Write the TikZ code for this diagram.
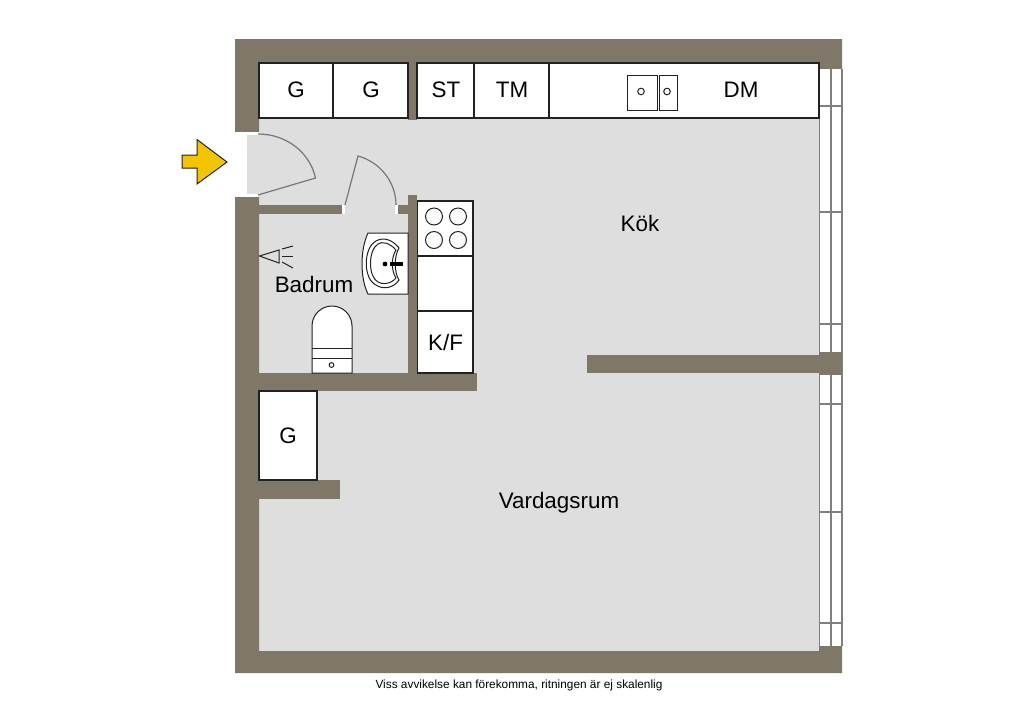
\documentclass[tikz,border=0pt]{standalone}
\usepackage{fontspec}
\setmainfont{Liberation Sans}
\usepackage{xcolor}
\definecolor{wall}{HTML}{7F7767}
\definecolor{floorc}{HTML}{DEDEDE}
\definecolor{ink}{HTML}{222222}
\definecolor{frame}{HTML}{808080}
\definecolor{doorc}{HTML}{777777}
\definecolor{arrowc}{HTML}{F2C500}
\tikzset{
  wallp/.style={fill=wall, draw=none},
  unit/.style={draw=ink, fill=white, line width=1.1pt},
  thin/.style={draw=ink, line width=1pt},
  win/.style={draw=frame, line width=1.4pt},
  door/.style={draw=doorc, line width=1.2pt},
  sill/.style={fill=white, draw=none},
  lab/.style={text=black, font=\fontsize{22.4}{24}\selectfont, inner sep=0pt},
}

\begin{document}
\begin{tikzpicture}[x=1pt,y=-1pt]
  \useasboundingbox (0,0) rectangle (1024,724);
  \fill[white] (0,0) rectangle (1024,724);
  % floor
  \fill[floorc] (259,63) rectangle (819,651);
  \fill[floorc] (247,134) rectangle (259,194);
  % outer walls
  \fill[wallp] (235,39) -- (842,39) -- (842,69) -- (819,69) -- (819,63) -- (259,63) -- (259,132) -- (235,132) -- cycle;
  \fill[wallp] (235,195) -- (259,195) -- (259,651) -- (819,651) -- (819,646) -- (842,646) -- (842,673) -- (235,673) -- cycle;
  % inner walls
  \fill[wallp] (408,63) rectangle (417,120);
  \fill[wallp] (259,205) rectangle (342,214);
  \fill[wallp] (398,205) rectangle (408,214);
  \fill[wallp] (408,195) rectangle (417,373);
  \fill[wallp] (259,373) rectangle (477,391);
  \fill[wallp] (259,480) rectangle (340,499);
  \fill[wallp] (587,355) rectangle (819,373);
  % window
  \fill[white] (819,69) rectangle (842,646);
  \draw[win] (819.5,69) -- (819.5,646);
  \draw[win] (831,69) -- (831,646);
  \draw[win] (842,69) -- (842,646);
  \foreach \yy in {106,212,324,404,512,623}
    \draw[win] (819,\yy) -- (842,\yy);
  \fill[wallp] (819,352) rectangle (842,375);
  % sills
  \fill[sill] (235,132) rectangle (259,134.5);
  \fill[sill] (235,194) rectangle (259,196.5);
  \fill[sill] (342,205) rectangle (345,214);
  \fill[sill] (395,205) rectangle (398,214);
  % doors
  \draw[door] (258,134) .. controls (287,134) and (310,153) .. (315.5,178) -- (258,195);
  \draw[door] (345,205) -- (358,156) .. controls (380,162) and (396,182) .. (396,205);
  % cabinets
  \draw[unit] (259,63) rectangle (333,118);
  \draw[unit] (333,63) rectangle (408,118);
  \draw[unit] (417,63) rectangle (474,118);
  \draw[unit] (474,63) rectangle (549,118);
  \draw[unit] (549,63) rectangle (819,118);
  \draw[thin] (627,75) rectangle (657,110);
  \draw[thin] (659,75) rectangle (677,110);
  \draw[thin] (641,91.5) circle (3.3);
  \draw[thin] (667,91.5) circle (3.3);
  % stove and fridge
  \draw[unit] (417.5,201) rectangle (473,256);
  \draw[unit] (417.5,256) rectangle (473,311);
  \draw[unit] (417.5,311) rectangle (473,373);
  \foreach \xx in {434,458}
    \foreach \yy in {216.5,240}
      \draw[thin] (\xx,\yy) circle (8.5);
  \draw[unit] (259,391) rectangle (317,480);
  % sink
  \draw[thin, fill=white] (368,233) -- (408,233) -- (408,294) -- (368,294) .. controls (360,278) and (360,250) .. (368,233) -- cycle;
  \draw[thin] (399,248) .. controls (392,239) and (383,237) .. (376,241) .. controls (363,248) and (363,279) .. (376,285) .. controls (383,290) and (394,288) .. (399,280) .. controls (394,272) and (394,256) .. (399,248) -- cycle;
  \draw[thin] (396,250) .. controls (390,243) and (382,241) .. (378,244) .. controls (368,250) and (368,277) .. (378,282) .. controls (382,285) and (391,284) .. (396,278) .. controls (391,270) and (391,258) .. (396,250) -- cycle;
  \fill[black] (385,264) circle (2.4);
  \draw[black, line width=3.2pt] (390,264) -- (403,264);
  % toilet
  \draw[thin, fill=white] (312,373) -- (312,326) arc (180:360:20) -- (352,373) -- cycle;
  \draw[thin] (312,348) -- (352,348);
  \draw[thin] (312,358) -- (352,358);
  \draw[thin] (331.5,365) circle (2.4);
  % shower
  \draw[thin] (259.5,256) -- (279,250) -- (279,263) -- cycle;
  \draw[thin] (282,249) -- (293,246);
  \draw[thin] (282,256) -- (293,256);
  \draw[thin] (282,262) -- (293,268);
  % entrance arrow
  \draw[draw=ink, fill=arrowc, line width=1pt, line join=miter] (182,155) -- (197,155) -- (197,139.5) -- (227,162) -- (197,184) -- (197,168) -- (182,168) -- cycle;
  % labels
  \node[lab] (lg1) at (296,90) {G};
  \node[lab] (lg2) at (371,90) {G};
  \node[lab] (lst) at (446,90) {ST};
  \node[lab] (ltm) at (512,90) {TM};
  \node[lab] (ldm) at (741,90) {DM};
  \node[lab] (lkok) at (640,223.5) {Kök};
  \node[lab] (lbad) at (314,284.5) {Badrum};
  \node[lab] (lkf) at (445.5,342) {K/F};
  \node[lab] (lg3) at (288,436) {G};
  \node[lab] (lvar) at (559,502.5) {Vardagsrum};
  \node[text=black, font=\fontsize{11.85}{13}\selectfont, inner sep=0pt] (lnote) at (519,685.5) {Viss avvikelse kan förekomma, ritningen är ej skalenlig};
\end{tikzpicture}
\end{document}
